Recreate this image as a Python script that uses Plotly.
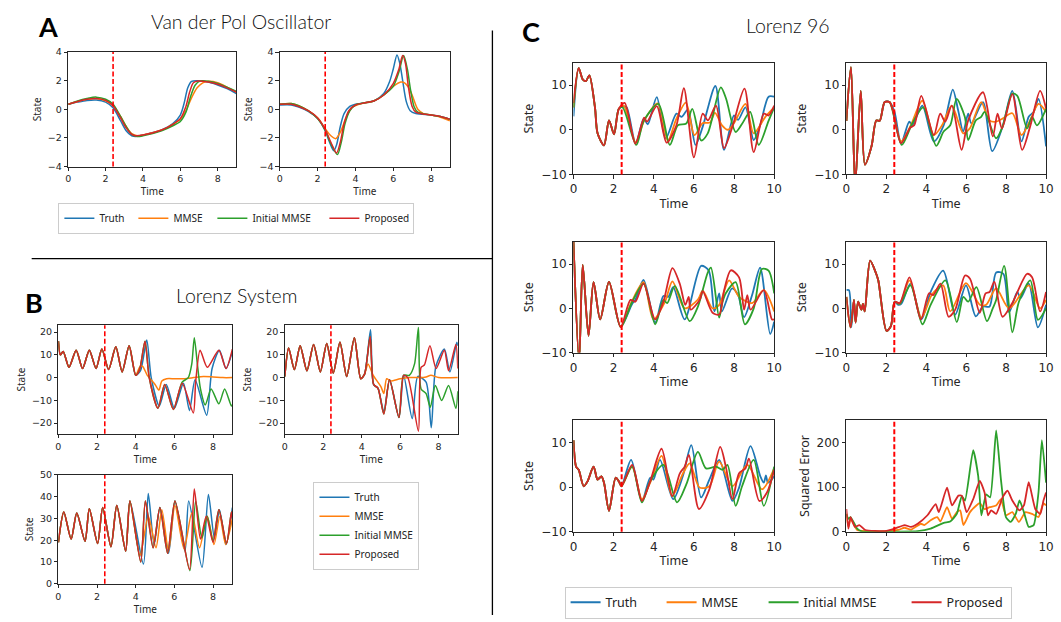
import plotly.graph_objects as go

W, H = 1061, 622
T_SPLIT = 2.4
NAMES = ["Truth", "MMSE", "Initial MMSE", "Proposed"]
COLORS = ["#1f77b4", "#ff7f0e", "#2ca02c", "#d62728"]

# ---------------- Van der Pol (A) ----------------
VDP1_TRUTH = [(0,0.35),(0.5,0.5),(1,0.62),(1.5,0.65),(2,0.5),(2.4,0.1),(2.8,-0.8),(3.1,-1.5),(3.4,-1.85),(3.6,-1.9),(4,-1.8),(5,-1.45),(5.6,-1.0),(6,-0.4),(6.2,0.4),(6.4,1.5),(6.6,1.95),(6.9,2.0),(7.5,1.9),(8,1.7),(8.5,1.45),(9,1.1)]
VDP1_MMSE = [(0,0.35),(0.5,0.55),(1,0.7),(1.5,0.75),(2,0.6),(2.4,0.25),(2.8,-0.5),(3.1,-1.2),(3.4,-1.7),(3.7,-1.85),(4,-1.8),(5,-1.45),(5.6,-1.05),(6,-0.7),(6.3,-0.1),(6.6,0.8),(6.9,1.5),(7.2,1.85),(7.5,1.95),(8,1.85),(8.5,1.55),(9,1.2)]
VDP1_INIT = [(0,0.35),(0.5,0.58),(1,0.75),(1.5,0.85),(2,0.7),(2.4,0.35),(2.8,-0.5),(3.1,-1.2),(3.4,-1.75),(3.7,-1.9),(4,-1.85),(5,-1.5),(5.6,-1.15),(6,-0.85),(6.3,-0.2),(6.55,0.9),(6.8,1.7),(7.05,1.97),(7.5,1.95),(8,1.8),(8.5,1.55),(9,1.25)]
VDP1_PROP = [(0,0.35),(0.5,0.55),(1,0.7),(1.5,0.75),(2,0.62),(2.4,0.25),(2.8,-0.6),(3.1,-1.3),(3.4,-1.75),(3.6,-1.85),(4,-1.8),(5,-1.45),(5.6,-1.05),(6,-0.65),(6.3,0.2),(6.5,1.2),(6.7,1.85),(6.95,1.98),(7.5,1.9),(8,1.75),(8.5,1.5),(9,1.2)]

VDP2_TRUTH = [(0,0.3),(0.6,0.3),(1,0.15),(1.5,-0.15),(2,-0.65),(2.4,-1.5),(2.6,-2.2),(2.85,-2.9),(3.0,-2.5),(3.2,-1.2),(3.4,-0.3),(3.7,0.2),(4,0.35),(4.5,0.45),(5,0.6),(5.5,1.1),(5.8,1.9),(6.0,2.8),(6.2,3.8),(6.35,3.2),(6.5,2.0),(6.7,0.5),(6.9,-0.1),(7.2,-0.3),(8,-0.4),(8.5,-0.5),(9,-0.7)]
VDP2_MMSE = [(0,0.35),(0.6,0.4),(1,0.25),(1.5,-0.1),(2,-0.6),(2.4,-1.35),(2.7,-1.85),(2.95,-2.05),(3.2,-1.6),(3.5,-0.6),(3.8,0.1),(4.2,0.35),(5,0.6),(5.5,1.0),(6,1.6),(6.4,1.9),(6.6,1.85),(6.8,1.55),(7.0,1.0),(7.3,0.0),(7.6,-0.3),(8,-0.4),(8.5,-0.55),(9,-0.8)]
VDP2_INIT = [(0,0.35),(0.6,0.4),(1,0.25),(1.5,-0.1),(2,-0.65),(2.4,-1.45),(2.7,-2.4),(3.05,-3.15),(3.25,-2.3),(3.45,-1.0),(3.7,-0.1),(4,0.3),(4.5,0.45),(5,0.6),(5.5,1.0),(6,1.6),(6.3,2.6),(6.55,3.75),(6.75,2.8),(6.9,1.5),(7.1,0.2),(7.3,-0.2),(8,-0.4),(8.5,-0.5),(9,-0.7)]
VDP2_PROP = [(0,0.35),(0.6,0.35),(1,0.2),(1.5,-0.1),(2,-0.6),(2.4,-1.4),(2.7,-2.3),(3.0,-3.05),(3.2,-2.3),(3.4,-1.0),(3.65,-0.1),(4,0.3),(4.5,0.45),(5,0.6),(5.5,1.0),(6,1.8),(6.3,2.8),(6.5,3.75),(6.65,3.2),(6.8,1.6),(7.0,0.2),(7.2,-0.2),(8,-0.4),(8.5,-0.5),(9,-0.7)]

# ---------------- Lorenz system (B) ----------------
L63X_EARLY = [(0,16),(0.1,10),(0.25,11.5),(0.55,4.5),(0.92,12),(1.25,4),(1.6,12),(1.95,4),(2.25,12.5),(2.6,3.5),(2.97,13.5),(3.3,2.5),(3.66,14),(4.0,1)]
L63X_TRUTH = L63X_EARLY + [(4.25,3),(4.57,16.5),(4.8,0),(5.22,-12.5),(5.58,-3),(6.0,-13.5),(6.47,-2.5),(6.78,-14.5),(7.07,-1),(7.67,-16.5),(7.95,4),(8.33,12),(8.67,4),(9.0,11.5)]
L63X_MMSE = L63X_EARLY + [(4.2,4.5),(4.35,5),(4.6,1),(5.0,-3),(5.2,-5.5),(5.35,-1.5),(5.6,-0.5),(6.0,-0.5),(6.5,-0.5),(7.0,0),(7.5,0.5),(8.0,0.3),(8.5,0),(9.0,0)]
L63X_INIT = L63X_EARLY + [(4.2,3.5),(4.48,16),(4.7,0),(5.15,-13.5),(5.5,-3),(5.95,-14),(6.4,-2),(6.72,0),(6.9,6),(7.03,17.5),(7.2,5),(7.35,-5),(7.6,-12),(7.9,-5),(8.3,-11.5),(8.6,-5),(8.95,-12.5),(9.0,-12)]
L63X_PROP = L63X_EARLY + [(4.2,3.5),(4.48,16),(4.7,0),(5.15,-13.5),(5.5,-3),(5.95,-14),(6.4,-2.5),(6.98,-15.5),(7.1,-2),(7.33,12),(7.7,4.5),(8.3,12),(8.67,4),(9.0,12.5)]

L63Y_EARLY = [(0,0.5),(0.2,13),(0.5,3.5),(0.8,14),(1.15,3),(1.5,14.5),(1.85,2.5),(2.18,15),(2.52,2),(2.87,15.5),(3.22,0.5),(3.62,17.5),(3.95,-0.5),(4.15,1.5)]
L63Y_TRUTH = L63Y_EARLY + [(4.46,21),(4.62,-3),(4.85,-4.7),(5.15,-15),(5.45,-1),(5.94,-17.5),(6.18,1),(6.63,-18),(6.92,0.5),(7.35,-2),(7.62,-22),(7.86,5),(8.3,12.5),(8.59,2.5),(8.95,15.5),(9.0,14)]
L63Y_MMSE = L63Y_EARLY + [(4.33,6),(4.6,1),(5.0,-4),(5.15,-7),(5.3,-0.5),(5.5,-1.5),(6.0,-0.5),(6.5,0),(7.0,0),(7.35,0.3),(7.6,1),(8.0,0),(9.0,0)]
L63Y_INIT = L63Y_EARLY + [(4.44,18),(4.62,-3),(4.85,-4.7),(5.15,-16),(5.45,-1),(5.94,-17.5),(6.18,1),(6.48,1),(6.75,6),(6.95,22),(7.09,-5),(7.35,-7),(7.57,-13),(7.83,-3.5),(8.16,-10),(8.52,-3.5),(8.9,-13.5),(9.0,-6)]
L63Y_PROP = L63Y_EARLY + [(4.44,18),(4.62,-3),(4.85,-4.7),(5.15,-16),(5.45,-1),(5.94,-17.5),(6.18,1),(6.4,0),(6.95,-23.5),(7.09,4.5),(7.26,5.5),(7.55,14),(7.87,4),(8.3,12),(8.52,3),(8.9,14.5),(9.0,4)]

L63Z_EARLY = [(0,19),(0.28,33),(0.66,20.5),(0.95,32.5),(1.38,19.5),(1.6,34.5),(2.03,18.5),(2.29,35),(2.72,17),(3.02,36),(3.48,15),(3.7,38)]
L63Z_TRUTH = L63Z_EARLY + [(4.4,9),(4.65,41.5),(4.95,18),(5.25,35),(5.7,14),(6.03,38),(6.55,15),(6.74,38),(7.43,7.5),(7.76,41),(8.07,21),(8.33,34),(8.67,18),(9.0,35)]
L63Z_MMSE = L63Z_EARLY + [(4.22,13),(4.65,31),(5.05,16.5),(5.35,34),(5.7,15),(6.03,36),(6.5,16),(6.9,32.5),(7.3,16.5),(7.7,31),(8.05,18),(8.35,31),(8.65,18),(9.0,30)]
L63Z_INIT = L63Z_EARLY + [(4.26,10),(4.5,38),(4.9,16.5),(5.25,35),(5.65,14),(6.03,38),(6.8,6),(7.1,38),(7.42,21),(7.7,31),(8.0,19.5),(8.3,34),(8.7,18.5),(8.95,33),(9.0,31)]
L63Z_PROP = L63Z_EARLY + [(4.26,10),(4.5,38),(4.9,16.5),(5.25,35),(5.65,14),(6.03,38),(6.78,6.5),(7.03,43.5),(7.35,20.5),(7.65,31),(8.0,19),(8.3,34),(8.7,18.5),(8.95,33),(9.0,30)]

# ---------------- Lorenz 96 (C) ----------------
C1_EARLY = [(0.26,13.8),(0.46,11.3),(0.62,10.9),(0.79,12.2),(1.07,5),(1.2,-0.8),(1.52,-3.5),(1.77,2.1),(2.02,-1),(2.26,4.7)]
C1_TRUTH = [(0,3)] + C1_EARLY + [(2.5,5.2),(2.65,5.0),(3.1,-3),(3.5,2.5),(3.7,1.2),(4.15,7.3),(4.6,-1.9),(5.13,3.6),(5.38,2.9),(5.7,4.5),(6.08,-3.4),(6.44,0.7),(7.07,9.8),(7.5,-4.5),(8.0,3.2),(8.2,2.2),(8.57,5),(8.98,-2.3),(9.3,1),(9.72,7.4),(10,7.4)]
C1_MMSE = [(0,5)] + C1_EARLY + [(2.5,5.4),(3.1,-2.8),(3.52,2),(4.2,5.9),(4.7,-2.5),(5.13,2.5),(5.6,6.1),(6.03,-1.2),(6.44,1.5),(6.8,1.6),(7.05,3.8),(7.4,1.0),(7.7,0),(8.0,1.5),(8.57,5.8),(8.98,-0.8),(9.56,2.9),(10,5)]
C1_INIT = [(0,5)] + C1_EARLY + [(2.45,5),(3.13,-3.4),(3.5,2),(4.23,5.8),(4.8,-3.4),(5.2,1),(5.62,1.4),(5.92,4.7),(6.36,-2.4),(6.69,-0.8),(7.34,9.5),(7.6,7),(8.08,-0.5),(8.41,1.4),(8.8,4),(9.23,-3.4),(9.72,2),(10,5)]
C1_PROP = [(0,6)] + C1_EARLY + [(2.55,6),(3.08,-3.1),(3.52,2.7),(3.66,1.8),(4.15,5.3),(4.64,-2.9),(5.13,1.0),(5.5,9.3),(6.0,-6.2),(6.44,3.6),(6.7,2.1),(7.1,5.4),(7.5,-4.1),(7.92,0.7),(8.52,9.2),(8.98,-5),(9.48,3.6),(9.72,3.2),(10,5.4)]

C2_EARLY = [(0,2),(0.23,14),(0.44,-12.5),(0.72,8.7),(0.93,-7.8),(1.26,-3.7),(1.5,2.1),(1.67,2),(1.92,6.2),(2.16,6.2)]
C2_TRUTH = C2_EARLY + [(2.41,4),(2.74,-3),(3.15,1.8),(3.3,1.0),(3.8,5.4),(4.38,-2.6),(4.87,1),(5.33,9),(5.6,4.3),(5.85,-0.4),(6.1,3.6),(6.26,1.4),(6.84,6.2),(7.3,-4.8),(7.82,0.7),(8.31,8.7),(8.77,-2.6),(9.13,2.9),(9.38,4),(9.62,6.9),(10,-3.7)]
C2_MMSE = C2_EARLY + [(2.3,4.8),(2.74,-2.6),(3.23,1),(3.8,6.5),(4.38,-1.2),(4.79,1),(5.28,5.4),(5.85,-0.8),(6.18,0.3),(6.75,6.2),(7.16,2.1),(7.5,1.8),(7.82,2.5),(8.31,3.7),(8.77,-1.2),(9.2,2.1),(9.62,5.8),(10,4)]
C2_INIT = C2_EARLY + [(2.77,-3.4),(3.3,1.4),(3.85,5),(4.5,-3.6),(4.87,-0.4),(5.2,1),(5.52,6.9),(5.93,2.9),(6.1,-2.3),(6.48,2.1),(6.75,2.9),(6.92,4),(7.5,-1.9),(7.82,0.7),(8.31,8.1),(8.56,7.6),(9.05,0.3),(9.3,2.9),(9.54,1),(10,4.7)]
C2_PROP = C2_EARLY + [(2.35,4),(2.74,-3),(3.2,0.5),(3.4,1),(3.75,7.6),(4.38,-1.2),(4.7,3.6),(4.95,1.8),(5.28,5.4),(5.77,-4.5),(6.1,2.1),(6.84,8.4),(7.33,-1.5),(7.57,3.6),(7.79,0.3),(8.31,8),(8.8,-4.5),(9.2,0.7),(9.7,8.7),(10,4.7)]

C3_EARLY = [(0,15),(0.28,-12),(0.46,9.8),(0.75,-6.2),(1.0,5.9),(1.33,-2.5),(1.77,6),(2.35,-4.2)]
C3_TRUTH = C3_EARLY + [(2.92,1),(3.08,1.9),(3.49,6.4),(4.07,-3.2),(4.48,2.8),(4.72,2.6),(4.97,4.8),(5.54,-2.5),(6.36,9.6),(6.74,8.5),(7.02,-0.7),(7.26,3.4),(7.39,-0.7),(7.9,4.5),(8.2,3),(8.5,-2),(8.9,3),(9.3,9.2),(9.8,-5.8),(10,-3)]
C3_MMSE = C3_EARLY + [(2.9,1.5),(3.49,5.9),(3.98,-2.5),(4.56,1.5),(4.93,6.1),(5.54,0),(6.2,2),(6.44,4),(6.93,0),(7.26,0.8),(7.75,6.3),(8.25,2.6),(8.9,1.2),(9.48,4.1),(10,-0.7)]
C3_INIT = C3_EARLY + [(2.9,1.2),(3.49,5.6),(4.07,-3.6),(4.48,1.9),(4.67,1.2),(5.05,5),(5.79,-2.9),(6.2,0.4),(6.69,8.1),(6.85,9.2),(7.26,-2.1),(7.43,1.5),(7.59,3.4),(8.08,5.9),(8.54,-3.6),(8.98,0),(9.39,8.9),(9.72,8.5),(10,3.4)]
C3_PROP = C3_EARLY + [(2.84,1.9),(3.08,1.5),(3.49,5.6),(4.07,-2.5),(4.48,1.5),(4.93,9.1),(5.3,5.5),(5.57,0.8),(5.74,2.6),(5.84,-0.3),(6.3,2),(6.44,3.9),(6.93,-1),(7.26,-1.4),(7.5,4),(7.84,8.6),(8.25,7),(8.5,-0.3),(8.66,3),(8.82,-0.3),(9.48,4.1),(9.89,-2.5),(10,-2.5)]

C4_EARLY = [(0.38,1.9),(0.46,-3.2),(0.59,1.5),(0.75,-0.3),(0.83,1),(0.92,-0.7),(1.19,10.8),(1.47,8.1),(1.6,6.3),(2.01,-5.1),(2.23,-4),(2.42,1.5)]
C4_TRUTH = [(0,4.1),(0.13,4.1),(0.25,-4.3)] + C4_EARLY + [(2.59,0.8),(2.75,1),(3.21,5.6),(3.76,-2.5),(4.22,3.7),(4.85,8.5),(5.45,-1.4),(5.99,5.2),(6.48,-1.8),(6.84,0.4),(7.17,0.4),(7.5,8.1),(7.86,7.8),(8.15,-0.9),(8.56,3.7),(8.72,2.3),(9.13,5.6),(9.59,-4.3),(10,0.8)]
C4_MMSE = [(0,2.6),(0.21,-4.3)] + C4_EARLY + [(2.67,1),(3.16,6.3),(3.76,-2.1),(4.22,2.6),(4.4,3.8),(4.85,5.2),(5.2,-0.7),(5.99,5.7),(6.68,0.8),(7.0,0.8),(7.5,4.5),(8.15,0),(9.13,5.2),(9.7,0),(10,1.9)]
C4_INIT = [(0,2.6),(0.21,-4.3)] + C4_EARLY + [(2.67,1),(3.21,5.2),(3.81,-3.6),(4.22,0.8),(4.96,6.3),(5.53,-3.1),(5.86,2.6),(6.1,1.5),(6.51,4.8),(7.04,-2.9),(7.33,0),(7.5,1.9),(7.9,9.6),(8.31,-5.4),(8.64,1.5),(9.21,6.3),(9.59,-2.6),(10,0)]
C4_PROP = [(0,2.6),(0.21,-4.3)] + C4_EARLY + [(2.67,1.2),(3.16,7),(3.73,-2.5),(4.14,3.4),(4.35,3),(4.71,5.6),(5.12,-1.9),(5.45,-0.3),(5.94,7.4),(6.19,6.7),(6.68,-1),(6.97,3.4),(7.17,3.7),(7.41,6),(7.82,-1.9),(8.31,1.2),(9.05,7.8),(9.3,7),(9.7,-0.7),(10,3.7)]

C5_EARLY = [(0,10.5),(0.13,4.6),(0.26,3.9),(0.51,0.2),(0.7,1.3),(1.0,4.6),(1.2,1.7),(1.39,2.4),(1.52,1),(1.77,-5.3),(2.1,2.1),(2.26,1.3),(2.39,0.2)]
C5_TRUTH = C5_EARLY + [(2.87,6.1),(3.41,-3.1),(3.82,2.1),(3.98,1.7),(4.31,6.1),(4.97,-2.7),(5.45,2.5),(5.87,9.4),(6.36,-2.3),(6.77,1.7),(7.26,6.1),(7.92,-3.1),(8.25,-0.1),(8.82,9.2),(9.31,2.4),(9.48,1),(9.59,2.6),(9.69,1),(10,2.4)]
C5_MMSE = C5_EARLY + [(2.92,4.6),(3.41,-2.7),(3.82,1),(4.39,7),(4.92,-2),(5.46,3.1),(5.79,5.3),(6.28,-0.1),(6.77,0.2),(7.26,5.7),(7.92,0.2),(8.66,5),(9.39,-0.5),(10,4.2)]
C5_INIT = C5_EARLY + [(2.92,4.6),(3.41,-3.4),(3.82,1.3),(4.48,5),(5.16,-3.4),(5.62,0.6),(6.2,7.9),(6.6,4.2),(7.1,4.6),(7.43,3.9),(7.67,5),(8.08,-4.2),(8.4,0.2),(8.98,6.1),(9.48,-4.2),(10,4.6)]
C5_PROP = C5_EARLY + [(2.92,5),(3.41,-3.1),(3.82,1.3),(4.39,8.6),(4.92,-2),(5.3,3.1),(5.54,4.6),(5.75,7.2),(6.25,-4.9),(6.77,-0.5),(7.31,9),(7.59,4.6),(7.92,-2.7),(8.25,3.1),(8.57,4.2),(8.74,6.4),(9.26,-3.1),(9.64,-1.2),(10,3.9)]

ERR_TRUTH = []
ERR_MMSE = [(0,40),(0.1,11),(0.21,29),(0.54,4),(1.0,1.5),(2.0,1.5),(2.59,4),(2.91,9),(3.24,5),(3.73,18),(3.9,15),(4.22,26),(4.55,33),(4.71,23),(5.04,55),(5.29,29),(5.53,44),(5.7,48),(5.86,15),(6.19,44),(6.51,59),(6.68,64),(6.92,51),(7.17,55),(7.5,59),(7.74,73),(7.99,37),(8.31,44),(8.64,22),(8.97,44),(9.3,40),(9.62,33),(9.87,64),(10,59)]
ERR_INIT = [(0,40),(0.1,29),(0.21,33),(0.54,7),(0.8,0.5),(1.5,0.5),(2.5,0.5),(3.57,1.5),(4.22,7),(4.88,20),(5.2,23),(5.53,40),(5.78,80),(5.94,70),(6.35,183),(6.6,125),(6.76,37),(7.0,84),(7.2,77),(7.5,227),(7.74,117),(7.99,33),(8.23,22),(8.48,40),(8.67,70),(8.89,44),(9.13,11),(9.38,15),(9.62,88),(9.79,205),(10,110)]
ERR_PROP = [(0,51),(0.1,7),(0.21,33),(0.43,11),(0.65,15),(0.95,4),(1.93,1.5),(2.42,7),(2.91,15),(3.24,11),(3.57,18),(4.06,37),(4.47,62),(4.63,44),(5.04,99),(5.29,59),(5.61,81),(5.78,81),(6.02,44),(6.35,73),(6.68,114),(6.92,88),(7.09,37),(7.25,48),(7.5,40),(7.82,77),(8.07,92),(8.31,70),(8.67,48),(8.89,59),(9.13,111),(9.46,51),(9.71,40),(9.87,70),(10,88)]

X_TICKS_9 = [0, 2, 4, 6, 8]
X_TICKS_10 = [0, 2, 4, 6, 8, 10]

# per-entry text widths (px) of the horizontal legends
LEG1_WIDTHS = [29, 34, 67, 44]
LEG3_WIDTHS = [51, 57, 98, 59]


def fx(p):
    return p / W


def fy(p):
    return 1 - p / H


PANELS = [
    dict(series=[VDP1_TRUTH, VDP1_MMSE, VDP1_INIT, VDP1_PROP], xd=(65, 235), yd=(47, 164), xr=[0, 9], xt=X_TICKS_9,
         yr=[-4, 4], yt=[-4, -2, 0, 2, 4], yl="State", leg="legend", fs=10, lw=1.5, sm=0.8),
    dict(series=[VDP2_TRUTH, VDP2_MMSE, VDP2_INIT, VDP2_PROP], xd=(279, 451), yd=(47, 164), xr=[0, 9], xt=X_TICKS_9,
         yr=[-4, 4], yt=[-4, -2, 0, 2, 4], yl="State", leg=None, fs=10, lw=1.5, sm=0.8),
    dict(series=[L63X_TRUTH, L63X_MMSE, L63X_INIT, L63X_PROP], xd=(55, 231), yd=(326, 437), xr=[0, 9], xt=X_TICKS_9,
         yr=[-24.7, 23], yt=[-20, -10, 0, 10, 20], yl="State", leg="legend2", fs=10, lw=1.5, sm=0.7),
    dict(series=[L63Y_TRUTH, L63Y_MMSE, L63Y_INIT, L63Y_PROP], xd=(284, 459), yd=(326, 437), xr=[0, 9], xt=X_TICKS_9,
         yr=[-24.7, 23], yt=[-20, -10, 0, 10, 20], yl="State", leg=None, fs=10, lw=1.5, sm=0.7),
    dict(series=[L63Z_TRUTH, L63Z_MMSE, L63Z_INIT, L63Z_PROP], xd=(55, 231), yd=(479, 590), xr=[0, 9], xt=X_TICKS_9,
         yr=[0, 50], yt=[0, 10, 20, 30, 40, 50], yl="State", leg=None, fs=10, lw=1.5, sm=0.7),
    dict(series=[C1_TRUTH, C1_MMSE, C1_INIT, C1_PROP], xd=(576, 779), yd=(58, 172), xr=[0, 10], xt=X_TICKS_10,
         yr=[-10, 15], yt=[-10, 0, 10], yl="State", leg="legend3", fs=12.5, lw=1.8, sm=0.8),
    dict(series=[C2_TRUTH, C2_MMSE, C2_INIT, C2_PROP], xd=(852, 1054), yd=(58, 172), xr=[0, 10], xt=X_TICKS_10,
         yr=[-10, 15], yt=[-10, 0, 10], yl="State", leg=None, fs=12.5, lw=1.8, sm=0.8),
    dict(series=[C3_TRUTH, C3_MMSE, C3_INIT, C3_PROP], xd=(576, 779), yd=(241, 354), xr=[0, 10], xt=X_TICKS_10,
         yr=[-10, 15], yt=[-10, 0, 10], yl="State", leg=None, fs=12.5, lw=1.8, sm=0.8),
    dict(series=[C4_TRUTH, C4_MMSE, C4_INIT, C4_PROP], xd=(852, 1054), yd=(241, 354), xr=[0, 10], xt=X_TICKS_10,
         yr=[-10, 15], yt=[-10, 0, 10], yl="State", leg=None, fs=12.5, lw=1.8, sm=0.8),
    dict(series=[C5_TRUTH, C5_MMSE, C5_INIT, C5_PROP], xd=(576, 779), yd=(423, 537), xr=[0, 10], xt=X_TICKS_10,
         yr=[-10, 15], yt=[-10, 0, 10], yl="State", leg=None, fs=12.5, lw=1.8, sm=0.8),
    dict(series=[ERR_TRUTH, ERR_MMSE, ERR_INIT, ERR_PROP], xd=(852, 1054), yd=(423, 537), xr=[0, 10], xt=X_TICKS_10,
         yr=[0, 250], yt=[0, 100, 200], yl="Squared Error", leg=None, fs=12.5, lw=1.8, sm=0.5),
]

AX_COLOR = "#262626"
fig = go.Figure()
shapes = []
layout_axes = {}

for i, p in enumerate(PANELS, start=1):
    s = "" if i == 1 else str(i)
    for k, pts in enumerate(p["series"]):
        if not pts:
            continue
        t = [a for a, b in pts]
        v = [b for a, b in pts]
        extra = {}
        if p["leg"] == "legend3":
            extra["legendwidth"] = LEG3_WIDTHS[k]
        elif p["leg"] == "legend":
            extra["legendwidth"] = LEG1_WIDTHS[k]
        fig.add_trace(go.Scatter(
            x=t, y=v, mode="lines", name=NAMES[k],
            line=dict(color=COLORS[k], width=p["lw"], shape="spline", smoothing=p["sm"]),
            xaxis="x" + s, yaxis="y" + s,
            showlegend=p["leg"] is not None,
            legend=p["leg"] if p["leg"] else "legend",
            hoverinfo="skip",
            **extra,
        ))
    tick_font = dict(family="DejaVu Sans", size=p["fs"] - 0.5, color=AX_COLOR)
    lab_font = dict(family="Noto Sans", size=p["fs"], color=AX_COLOR)
    common = dict(showline=True, mirror=True, linecolor=AX_COLOR, linewidth=1, ticks="outside",
                  ticklen=3.5, tickwidth=1, tickcolor=AX_COLOR, showgrid=False, zeroline=False,
                  tickfont=tick_font)
    layout_axes["xaxis" + s] = dict(common, domain=[fx(p["xd"][0]), fx(p["xd"][1])], anchor="y" + s,
                                    range=p["xr"], tickvals=p["xt"],
                                    title=dict(text="Time", font=lab_font, standoff=3))
    layout_axes["yaxis" + s] = dict(common, domain=[fy(p["yd"][1]), fy(p["yd"][0])], anchor="x" + s,
                                    range=p["yr"], tickvals=p["yt"],
                                    title=dict(text=p["yl"], font=lab_font, standoff=4))
    shapes.append(dict(type="line", xref="x" + s, yref="y" + s + " domain", x0=T_SPLIT, x1=T_SPLIT, y0=0, y1=1,
                       line=dict(color="red", width=1.6 if p["fs"] < 12 else 2, dash="5px,2.5px")))

# panel dividers
shapes.append(dict(type="line", xref="paper", yref="paper", x0=fx(28), x1=fx(494), y0=fy(258), y1=fy(258),
                   line=dict(color="black", width=1.3)))
shapes.append(dict(type="line", xref="paper", yref="paper", x0=fx(494), x1=fx(494), y0=fy(25), y1=fy(622),
                   line=dict(color="black", width=1.3)))

TITLE_FONT = dict(family="Lato", size=19.5, color="#111111", weight=300)
LETTER_FONT = dict(family="Lato", size=27, color="black")
annotations = [
    dict(text="Van der Pol Oscillator", x=fx(240), y=fy(16), font=TITLE_FONT),
    dict(text="Lorenz System", x=fx(235), y=fy(296), font=TITLE_FONT),
    dict(text="Lorenz 96", x=fx(793), y=fy(20), font=TITLE_FONT),
    dict(text="<b>A</b>", x=fx(45), y=fy(21), font=LETTER_FONT),
    dict(text="<b>B</b>", x=fx(30), y=fy(303), font=LETTER_FONT),
    dict(text="<b>C</b>", x=fx(533), y=fy(26), font=LETTER_FONT),
]
for a in annotations:
    a.update(xref="paper", yref="paper", showarrow=False, xanchor="center", yanchor="middle")

LEG_COMMON = dict(bordercolor="#cccccc", borderwidth=1, bgcolor="white", xanchor="left", yanchor="top",
                  tracegroupgap=0)
fig.update_layout(
    width=W, height=H, margin=dict(l=0, r=0, t=0, b=0),
    paper_bgcolor="white", plot_bgcolor="white",
    shapes=shapes, annotations=annotations,
    legend=dict(LEG_COMMON, orientation="h", x=fx(55), y=fy(201),
                font=dict(family="Noto Sans", size=10, color="#222")),
    legend2=dict(LEG_COMMON, orientation="v", x=fx(313), y=fy(486),
                 font=dict(family="Noto Sans", size=10, color="#222")),
    legend3=dict(LEG_COMMON, orientation="h", x=fx(567), y=fy(593),
                 font=dict(family="Noto Sans", size=12.5, color="#222")),
    **layout_axes,
)

fig.write_html("out.html", config={"displayModeBar": False},
               post_script="document.body.style.margin='0';document.body.style.overflow='hidden';")
